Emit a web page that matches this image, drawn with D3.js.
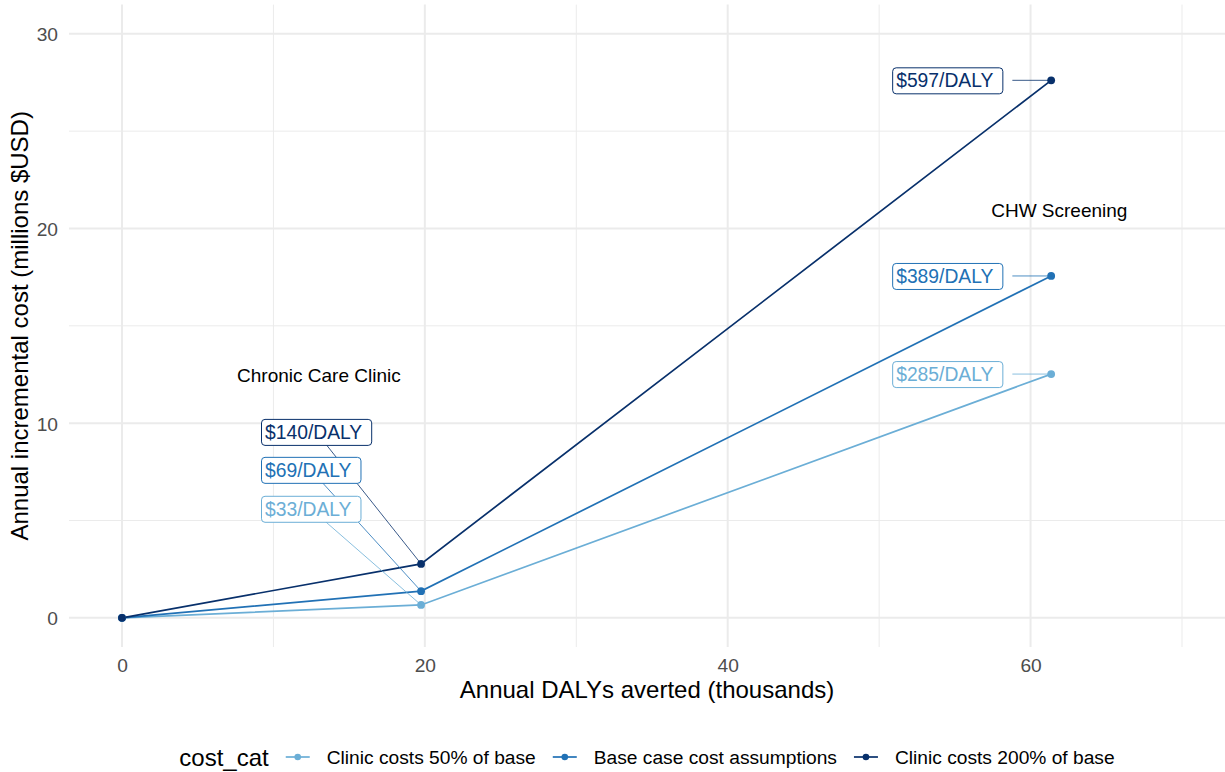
<!DOCTYPE html>
<html><head><meta charset="utf-8">
<script src="https://cdn.jsdelivr.net/npm/d3@7"></script>
<style>body{margin:0;background:#fff}svg{display:block;font-family:"Liberation Sans",Arial,sans-serif}</style>
</head><body><svg id="c" width="1225" height="772"></svg>
<script>
// ---- data ----
const dalys = [0, 19.75, 61.36];               // thousands
const categories = ["Clinic costs 50% of base", "Base case cost assumptions", "Clinic costs 200% of base"];
const costLow  = [0, 0.66, 12.52];             // millions USD
const costBase = [0, 1.37, 17.56];
const costHigh = [0, 2.77, 27.61];
const colors = ["#6baed6", "#2171b5", "#08306b"];
const clinicLabels = ["$33/DALY", "$69/DALY", "$140/DALY"];
const chwLabels = ["$285/DALY", "$389/DALY", "$597/DALY"];
const clinicLabelY = [5.6, 7.6, 9.55];          // label anchor (data units)
const clinicLabelX = 9.18;
const chwLabelX = 50.86;
const annotations = [{text:"Chronic Care Clinic", x:13.0, y:12.45}, {text:"CHW Screening", x:61.9, y:20.95}];
const xTicks = [0, 20, 40, 60], xMinor = [10, 30, 50, 70];
const yTicks = [0, 10, 20, 30], yMinor = [5, 15, 25];
const seriesCost = [costLow, costBase, costHigh];

const svg = d3.select("#c");
const x = d3.scaleLinear().domain([-3.5, 73.5]).range([69, 1235]);
const y = d3.scaleLinear().domain([-1.5, 31.5]).range([647, 4.6]);
const panel = {l:69, r:1225, t:4.6, b:647};

const g = svg.append("g");
// grid
g.selectAll(".vmin").data(xMinor).join("line").attr("x1",d=>x(d)).attr("x2",d=>x(d)).attr("y1",panel.t).attr("y2",panel.b).attr("stroke","#ebebeb").attr("stroke-width",1);
g.selectAll(".hmin").data(yMinor).join("line").attr("y1",d=>y(d)).attr("y2",d=>y(d)).attr("x1",panel.l).attr("x2",panel.r).attr("stroke","#ebebeb").attr("stroke-width",1);
g.selectAll(".vmaj").data(xTicks).join("line").attr("x1",d=>x(d)).attr("x2",d=>x(d)).attr("y1",panel.t).attr("y2",panel.b).attr("stroke","#ebebeb").attr("stroke-width",2);
g.selectAll(".hmaj").data(yTicks).join("line").attr("y1",d=>y(d)).attr("y2",d=>y(d)).attr("x1",panel.l).attr("x2",panel.r).attr("stroke","#ebebeb").attr("stroke-width",2);

// axes labels via d3 axes
const xAxis = d3.axisBottom(x).tickValues(xTicks).tickSize(0).tickPadding(0);
const xa = svg.append("g").attr("transform",`translate(0,${panel.b})`).call(xAxis);
xa.select(".domain").remove();
xa.selectAll("text").attr("font-size",19.2).attr("fill","#4d4d4d").attr("font-family","Liberation Sans, Arial, sans-serif").attr("dy",null).attr("y",25);
const yAxis = d3.axisLeft(y).tickValues(yTicks).tickSize(0).tickPadding(0);
const ya = svg.append("g").attr("transform",`translate(58,0)`).call(yAxis);
ya.select(".domain").remove();
ya.selectAll("text").attr("font-size",19.2).attr("fill","#4d4d4d").attr("font-family","Liberation Sans, Arial, sans-serif").attr("dy","0.36em").attr("x",0);

// titles
svg.append("text").attr("x",(panel.l+panel.r)/2).attr("y",698).attr("text-anchor","middle").attr("font-size",24).text("Annual DALYs averted (thousands)");
svg.append("text").attr("transform",`translate(28,${(panel.t+panel.b)/2}) rotate(-90)`).attr("text-anchor","middle").attr("font-size",24).text("Annual incremental cost (millions $USD)");

// lines and points
const line = d3.line().x((d,i)=>x(dalys[i])).y(d=>y(d));
seriesCost.forEach((s,k)=>{
  svg.append("path").datum(s).attr("d",line).attr("fill","none").attr("stroke",colors[k]).attr("stroke-width",1.7);
});
seriesCost.forEach((s,k)=>{
  svg.append("g").selectAll("circle").data(s).join("circle").attr("cx",(d,i)=>x(dalys[i])).attr("cy",d=>y(d)).attr("r",3.9).attr("fill",colors[k]);
});

// label boxes
const fs = 19.3;
function measure(t, size){
  const tmp = svg.append("text").attr("font-size",size).text(t);
  const w = tmp.node().getComputedTextLength(); tmp.remove(); return w;
}
const labels = [];
clinicLabels.forEach((t,k)=>labels.push({t, k, lx:x(clinicLabelX), cy:y(clinicLabelY[k]), px:x(dalys[1]), py:y(seriesCost[k][1]), side:"center"}));
chwLabels.forEach((t,k)=>labels.push({t, k, lx:x(chwLabelX), cy:y(seriesCost[k][2]), px:x(dalys[2]), py:y(seriesCost[k][2]), side:"right"}));
labels.forEach(L=>{ L.w = measure(L.t, fs) + 13; L.h = 26; });
// segments first
labels.forEach(L=>{
  if (L.side==="center") {
    svg.append("line").attr("x1",L.lx+L.w/2).attr("y1",L.cy).attr("x2",L.px).attr("y2",L.py).attr("stroke",colors[L.k]).attr("stroke-width",0.8);
  } else {
    svg.append("line").attr("x1",L.lx+L.w+10).attr("y1",L.cy).attr("x2",L.px).attr("y2",L.py).attr("stroke",colors[L.k]).attr("stroke-width",0.8);
  }
});
labels.forEach(L=>{
  svg.append("rect").attr("x",L.lx+0.5).attr("y",L.cy-L.h/2+0.5).attr("width",L.w).attr("height",L.h).attr("rx",3.5).attr("fill","#fff").attr("stroke",colors[L.k]).attr("stroke-width",1);
  svg.append("text").attr("x",L.lx+4).attr("y",L.cy).attr("dy","0.36em").attr("font-size",fs).attr("fill",colors[L.k]).text(L.t);
});

// annotations
annotations.forEach(a=>{
  svg.append("text").attr("x",x(a.x)).attr("y",y(a.y)).attr("dy","0.36em").attr("text-anchor","middle").attr("font-size",19).attr("fill","#000").text(a.text);
});

// legend
const ly = 757;
const items = [];
let total = measure("cost_cat",24) + 17;
categories.forEach((c,k)=>{ const w = measure(c,19.2); items.push(w); total += 24 + 17 + w + (k<2?17:0); });
let cx = (panel.l+panel.r)/2 - total/2;
const lg = svg.append("g");
lg.append("text").attr("x",cx).attr("y",ly).attr("dy","0.36em").attr("font-size",24).text("cost_cat");
cx += measure("cost_cat",24) + 17;
categories.forEach((c,k)=>{
  lg.append("line").attr("x1",cx).attr("x2",cx+24).attr("y1",ly).attr("y2",ly).attr("stroke",colors[k]).attr("stroke-width",1.7);
  lg.append("circle").attr("cx",cx+12).attr("cy",ly).attr("r",3.3).attr("fill",colors[k]);
  cx += 24 + 17;
  lg.append("text").attr("x",cx).attr("y",ly).attr("dy","0.36em").attr("font-size",19.2).text(c);
  cx += items[k] + 17;
});
</script></body></html>
